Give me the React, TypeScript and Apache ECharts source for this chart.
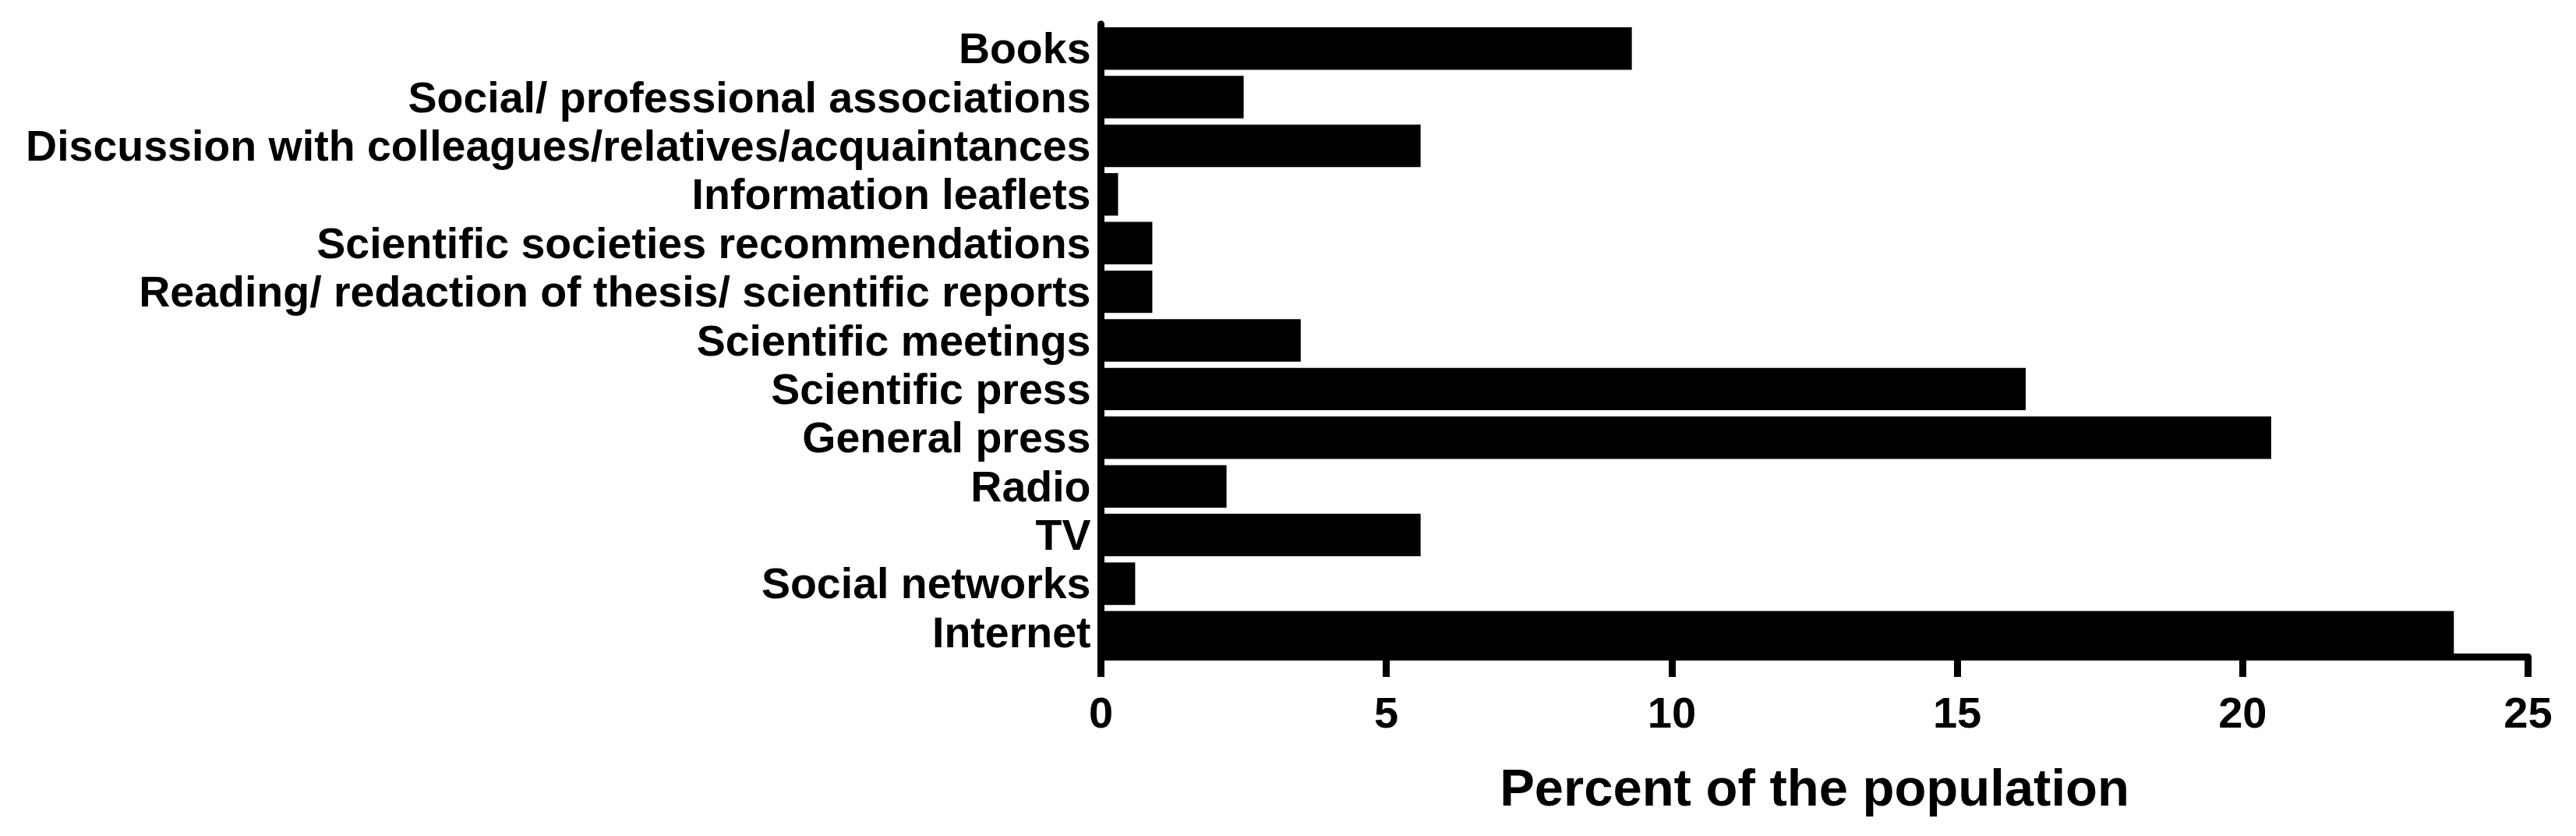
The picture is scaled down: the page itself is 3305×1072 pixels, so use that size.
import React, { useEffect, useRef } from "react";
import * as echarts from "echarts";

const categories = [
  "Books",
  "Social/ professional associations",
  "Discussion with colleagues/relatives/acquaintances",
  "Information leaflets",
  "Scientific societies recommendations",
  "Reading/ redaction of thesis/ scientific reports",
  "Scientific meetings",
  "Scientific press",
  "General press",
  "Radio",
  "TV",
  "Social networks",
  "Internet",
];

const percentValues = [9.3, 2.5, 5.6, 0.3, 0.9, 0.9, 3.5, 16.2, 20.5, 2.2, 5.6, 0.6, 23.7];

const xTicks = [0, 5, 10, 15, 20, 25];
const xAxisTitle = "Percent of the population";

export default function App() {
  const ref = useRef<HTMLDivElement>(null);

  useEffect(() => {
    if (!ref.current) return;
    const chart = echarts.init(ref.current, null, { renderer: "svg" });
    const font = "'Liberation Sans', Arial, Helvetica, sans-serif";
    chart.setOption({
      animation: false,
      backgroundColor: "#ffffff",
      grid: { left: 1412.5, right: 61.5, top: 31, bottom: 230, containLabel: false },
      xAxis: {
        type: "value",
        min: xTicks[0],
        max: xTicks[xTicks.length - 1],
        interval: 5,
        name: xAxisTitle,
        nameLocation: "middle",
        nameGap: 134,
        nameTextStyle: {
          fontFamily: font,
          fontWeight: "bold",
          fontSize: 67,
          color: "#000",
          verticalAlign: "top",
        },
        axisLine: { show: true, lineStyle: { color: "#000", width: 9 } },
        axisTick: { show: true, length: 26, lineStyle: { color: "#000", width: 9 } },
        axisLabel: {
          show: true,
          margin: 43,
          fontFamily: font,
          fontWeight: "bold",
          fontSize: 56,
          color: "#000",
          verticalAlign: "top",
        },
        splitLine: { show: false },
      },
      yAxis: {
        type: "category",
        data: categories,
        inverse: true,
        axisLine: { show: true, lineStyle: { color: "#000", width: 9 } },
        axisTick: { show: false },
        axisLabel: {
          show: true,
          margin: 13,
          fontFamily: font,
          fontWeight: "bold",
          fontSize: 55.5,
          color: "#000",
          interval: 0,
        },
        splitLine: { show: false },
      },
      series: [
        {
          type: "bar",
          data: percentValues,
          barCategoryGap: "12.7%",
          itemStyle: { color: "#000" },
          z: 1,
        },
      ],
    });
    return () => chart.dispose();
  }, []);

  return (
    <div
      ref={ref}
      style={{ position: "fixed", left: 0, top: 0, width: 3305, height: 1072, background: "#fff" }}
    />
  );
}
